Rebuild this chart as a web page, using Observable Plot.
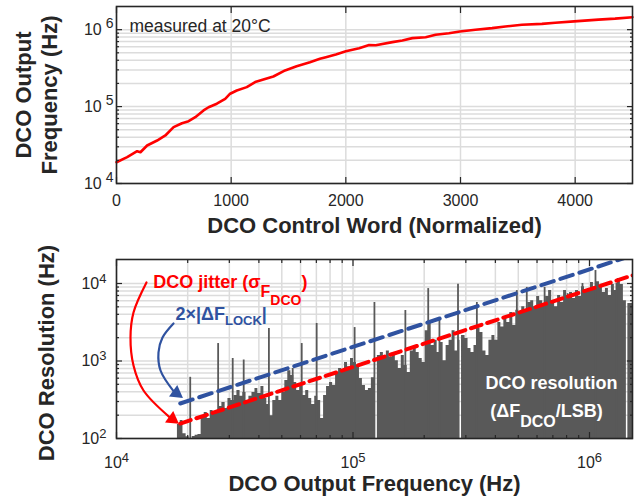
<!DOCTYPE html>
<html><head><meta charset="utf-8">
<script src="https://cdn.jsdelivr.net/npm/d3@7"></script>
<script src="https://cdn.jsdelivr.net/npm/@observablehq/plot@0.6"></script>
<style>
body{margin:0;background:#fff;}
svg{display:block;}
</style></head><body>
<div id="chart"></div>
<script>
// ---------- Top panel: DCO output frequency vs control word ----------
const controlWord = [0, 93, 180, 209, 267, 354, 426, 498, 571, 629, 687, 759, 803, 875, 948, 991, 1049, 1136, 1209, 1281, 1368, 1470, 1571, 1687, 1774, 1826, 1913, 2000, 2116, 2203, 2261, 2406, 2493, 2580, 2696, 2783, 2899, 2994, 3130, 3275, 3391, 3536, 3710, 3826, 3991, 4203, 4348, 4500];
const outputFreq = [1.89e4, 2.2e4, 2.63e4, 2.55e4, 3.12e4, 3.62e4, 4.21e4, 5.4e4, 6.08e4, 6.46e4, 7.28e4, 8.9e4, 9.8e4, 1.09e5, 1.26e5, 1.47e5, 1.62e5, 1.79e5, 2.08e5, 2.25e5, 2.46e5, 2.95e5, 3.35e5, 3.78e5, 4.18e5, 4.39e5, 4.76e5, 5.25e5, 5.75e5, 6.32e5, 6.26e5, 6.88e5, 7.24e5, 7.76e5, 7.98e5, 8.59e5, 9.0e5, 9.48e5, 9.97e5, 1.047e6, 1.1e6, 1.16e6, 1.19e6, 1.23e6, 1.28e6, 1.35e6, 1.39e6, 1.45e6];

const topXTicks = [0, 1000, 2000, 3000, 4000];
const topXTickLabels = ["0", "1000", "2000", "3000", "4000"];
const topYMajor = [1e4, 1e5, 1e6];
const topYMajorLabels = ["10^4", "10^5", "10^6"];
const topYMinor = [2e4, 3e4, 4e4, 5e4, 6e4, 7e4, 8e4, 9e4, 2e5, 3e5, 4e5, 5e5, 6e5, 7e5, 8e5, 9e5];

// ---------- Bottom panel: DCO resolution histogram ----------
const binEdges = [1.81e4, 1.86e4, 1.91e4, 1.97e4, 2.03e4, 2.09e4, 2.15e4, 2.21e4, 2.28e4, 2.35e4, 2.42e4, 2.49e4, 2.56e4, 2.64e4, 2.72e4, 2.79e4, 2.88e4, 2.96e4, 3.05e4, 3.14e4, 3.23e4, 3.33e4, 3.42e4, 3.53e4, 3.63e4, 3.74e4, 3.85e4, 3.96e4, 4.08e4, 4.20e4, 4.32e4, 4.45e4, 4.58e4, 4.72e4, 4.86e4, 5.00e4, 5.15e4, 5.30e4, 5.46e4, 5.62e4, 5.78e4, 5.95e4, 6.13e4, 6.31e4, 6.50e4, 6.69e4, 6.89e4, 7.09e4, 7.30e4, 7.51e4, 7.73e4, 7.96e4, 8.20e4, 8.44e4, 8.69e4, 8.95e4, 9.21e4, 9.48e4, 9.76e4, 1.005e5, 1.034e5, 1.065e5, 1.096e5, 1.129e5, 1.162e5, 1.196e5, 1.232e5, 1.245e5, 1.268e5, 1.305e5, 1.344e5, 1.384e5, 1.425e5, 1.467e5, 1.510e5, 1.555e5, 1.600e5, 1.648e5, 1.696e5, 1.747e5, 1.798e5, 1.851e5, 1.905e5, 1.962e5, 2.020e5, 2.080e5, 2.141e5, 2.204e5, 2.269e5, 2.336e5, 2.405e5, 2.476e5, 2.549e5, 2.624e5, 2.701e5, 2.781e5, 2.835e5, 2.877e5, 2.977e5, 3.065e5, 3.155e5, 3.248e5, 3.344e5, 3.443e5, 3.544e5, 3.649e5, 3.756e5, 3.867e5, 3.981e5, 4.098e5, 4.219e5, 4.344e5, 4.472e5, 4.604e5, 4.740e5, 4.879e5, 5.023e5, 5.171e5, 5.324e5, 5.481e5, 5.642e5, 5.809e5, 5.980e5, 6.156e5, 6.338e5, 6.525e5, 6.717e5, 6.918e5, 7.122e5, 7.332e5, 7.548e5, 7.771e5, 8.000e5, 8.236e5, 8.479e5, 8.729e5, 8.987e5, 9.252e5, 9.525e5, 9.806e5, 1.010e6, 1.039e6, 1.070e6, 1.102e6, 1.134e6, 1.168e6, 1.202e6, 1.238e6, 1.274e6, 1.312e6, 1.351e6, 1.391e6, 1.432e6, 1.453e6, 1.52e6];
const binResolution = [152, 171, 115, 105, 100, 106, 110, 113, 185, 216, 181, 230, 205, 230, 258, 292, 244, 328, 310, 359, 416, 350, 392, 310, 350, 392, 442, 380, 470, 328, 275, 197, 310, 350, 310, 392, 560, 750, 650, 528, 416, 470, 359, 416, 328, 275, 350, 310, 181, 359, 470, 528, 483, 711, 800, 750, 957, 840, 1077, 957, 875, 594, 483, 416, 442, 610, 640, 100, 1178, 1288, 1077, 1350, 1130, 1288, 1010, 800, 1178, 875, 711, 1350, 1500, 1288, 1077, 957, 2450, 3330, 1585, 1850, 1288, 1733, 1010, 1585, 1850, 2450, 1350, 1850, 100, 2133, 1950, 1449, 1288, 1585, 2625, 2333, 1350, 1178, 1850, 2133, 1850, 3140, 2750, 3532, 3140, 4226, 2871, 4500, 4226, 5000, 4500, 5688, 6000, 5000, 6800, 6000, 5400, 6800, 8100, 6000, 5000, 7000, 5688, 8100, 7000, 7656, 6399, 8100, 6800, 9100, 7656, 8614, 10300, 9000, 10500, 9420, 7656, 8614, 7000, 9700, 8100, 11600, 9700, 6000, 100, 5500];
const spikeFreq = [2.05e4, 2.69e4, 3.10e4, 3.45e4, 4.41e4, 5.56e4, 6.07e4, 7.02e4, 1.016e5, 1.232e5, 1.665e5, 2.08e5, 2.32e5, 2.78e5, 3.34e5, 4.93e5, 5.43e5, 6.46e5, 8.08e5, 9.34e5, 1.06e6, 1.30e6];
const spikeRes = [616, 1680, 1077, 1030, 2625, 800, 1680, 3050, 2700, 5690, 4480, 8600, 3530, 9800, 5690, 8100, 8900, 8900, 7400, 10000, 14700, 10000];

// Reference lines (slope-1 in log-log)
const lockFreq = [1.86e4, 1.6e6];
const lockRes = [283, 24300];     // 2x|dF_LOCK|
const jitterFreq = [1.86e4, 1.6e6];
const jitterRes = [156, 13400];   // sigma F_DCO

const botXMajor = [1e4, 1e5, 1e6];
const botXMajorLabels = ["10^4", "10^5", "10^6"];
const botXMinor = [2e4, 3e4, 4e4, 5e4, 6e4, 7e4, 8e4, 9e4, 2e5, 3e5, 4e5, 5e5, 6e5, 7e5, 8e5, 9e5];
const botYMajor = [1e2, 1e3, 1e4];
const botYMajorLabels = ["10^2", "10^3", "10^4"];
const botYMinor = [2e2, 3e2, 4e2, 5e2, 6e2, 7e2, 8e2, 9e2, 2e3, 3e3, 4e3, 5e3, 6e3, 7e3, 8e3, 9e3];

// annotation arrow paths (data units of the bottom panel)
const jitterArrowF = [1.339e4, 1.18e4, 1.146e4, 1.18e4, 1.301e4, 1.675e4];
const jitterArrowR = [10300, 4226, 2009, 875, 416, 189];
const lockArrowF = [1.742e4, 1.565e4, 1.505e4, 1.535e4, 1.742e4];
const lockArrowR = [3048, 2009, 1288, 754, 409];

// ---------- styling ----------
const font = '"Liberation Sans", Arial, Helvetica, sans-serif';
const ink = "#262626";
const gridColor = "#dcdcdc";
const red = "#ff0000";
const blue = "#2f52a0";
const barGray = "#595959";

const topData = controlWord.map((c, i) => ({c, f: outputFreq[i]}));
const barData = binEdges.map((f, i) => ({f, r: i < binResolution.length ? binResolution[i] : binResolution[binResolution.length - 1]}));
const spikeData = spikeFreq.map((f, i) => ({f, r: spikeRes[i]}));
const lockData = lockFreq.map((f, i) => ({f, r: lockRes[i]}));
const jitterData = jitterFreq.map((f, i) => ({f, r: jitterRes[i]}));
const jArrow = jitterArrowF.map((f, i) => ({f, r: jitterArrowR[i]}));
const lArrow = lockArrowF.map((f, i) => ({f, r: lockArrowR[i]}));

function tickMarks(xT, yT, len) {
  const o = {fill: "none", stroke: ink, strokeWidth: 1.2, label: null};
  return [
    Plot.axisX(xT, {...o, anchor: "bottom", tickSize: len, dy: -len}),
    Plot.axisX(xT, {...o, anchor: "top", tickSize: len, dy: len}),
    Plot.axisY(yT, {...o, anchor: "left", tickSize: len, dx: len}),
    Plot.axisY(yT, {...o, anchor: "right", tickSize: len, dx: -len})
  ];
}

function supTicks(svg, gap, size, rise) {
  d3.select(svg).selectAll("text").each(function () {
    const s = this.textContent;
    if (!s.startsWith("10^")) return;
    const t = d3.select(this);
    t.text(null);
    t.append("tspan").text("10");
    t.append("tspan").attr("dx", gap).attr("dy", -rise).attr("font-size", size).text(s.slice(3));
  });
}

function richText(svg, key, parts) {
  d3.select(svg).selectAll("text").filter(function () { return this.textContent === key; }).each(function () {
    const t = d3.select(this);
    t.text(null);
    for (const [s, size, dy] of parts) t.append("tspan").attr("font-size", size).attr("dy", dy).text(s);
  });
}

const topPlot = Plot.plot({
  width: 636, height: 240,
  marginLeft: 116, marginRight: 4, marginTop: 6, marginBottom: 57,
  style: {fontFamily: font, fontSize: "16px", color: ink, background: "white"},
  x: {domain: [0, 4500], label: null, axis: null},
  y: {type: "log", domain: [1e4, 2e6], label: null, axis: null},
  marks: [
    Plot.gridX(topXTicks, {stroke: gridColor, strokeOpacity: 1, strokeWidth: 1.5}),
    Plot.gridY([...topYMajor, ...topYMinor], {stroke: gridColor, strokeOpacity: 1, strokeWidth: 1.5}),
    Plot.line(topData, {x: "c", y: "f", stroke: red, strokeWidth: 2.6}),
    Plot.text(["measured at 20°C"], {x: 113, y: 9.19e5, textAnchor: "start", lineAnchor: "bottom", fontSize: 17.5, fill: ink}),
    Plot.frame({stroke: ink, strokeWidth: 1.6}),
    ...tickMarks(topXTicks, topYMajor, 6),
    ...tickMarks([], topYMinor, 3),
    Plot.axisX(topXTicks, {anchor: "bottom", tickSize: 0, tickPadding: 11, fill: ink, label: null,
      tickFormat: d => topXTickLabels[topXTicks.indexOf(d)]}),
    Plot.axisY(topYMajor, {anchor: "left", tickSize: 0, tickPadding: 3, fill: ink, label: null,
      tickFormat: d => topYMajorLabels[topYMajor.indexOf(d)]}),
    Plot.text(["DCO Control Word (Normalized)"], {frameAnchor: "bottom", dy: 49, lineAnchor: "bottom", fontSize: 22, fontWeight: "bold", fill: ink}),
    Plot.text(["DCO Output\nFrequency (Hz)"], {frameAnchor: "left", rotate: -90, dx: -60, textAnchor: "middle", lineAnchor: "bottom", lineHeight: 1.18, fontSize: 22, fontWeight: "bold", fill: ink})
  ]
});
supTicks(topPlot, 4, 14, 7);

const botPlot = Plot.plot({
  width: 636, height: 260,
  marginLeft: 116, marginRight: 4, marginTop: 19, marginBottom: 62,
  style: {fontFamily: font, fontSize: "16px", color: ink, background: "white"},
  x: {type: "log", domain: [1e4, 1.52e6], label: null, axis: null},
  y: {type: "log", domain: [1e2, 2.04e4], label: null, axis: null},
  marks: [
    Plot.gridX([...botXMajor, ...botXMinor], {stroke: gridColor, strokeOpacity: 1, strokeWidth: 1.5}),
    Plot.gridY([...botYMajor, ...botYMinor], {stroke: gridColor, strokeOpacity: 1, strokeWidth: 1.5}),
    Plot.areaY(barData, {x: "f", y1: 100, y2: "r", curve: "step-after", fill: barGray}),
    Plot.ruleX(spikeData, {x: "f", y1: 100, y2: "r", stroke: barGray, strokeWidth: 1.8}),
    Plot.line(lockData, {x: "f", y: "r", stroke: blue, strokeWidth: 4, strokeDasharray: "13,7", clip: true}),
    Plot.line(jitterData, {x: "f", y: "r", stroke: red, strokeWidth: 4, strokeDasharray: "11,6", clip: true}),
    Plot.frame({stroke: ink, strokeWidth: 1.6}),
    ...tickMarks(botXMajor, botYMajor, 6),
    ...tickMarks(botXMinor, botYMinor, 3),
    Plot.axisX(botXMajor, {anchor: "bottom", tickSize: 0, tickPadding: 18, fill: ink, label: null,
      tickFormat: d => botXMajorLabels[botXMajor.indexOf(d)]}),
    Plot.axisY(botYMajor, {anchor: "left", tickSize: 0, tickPadding: 10, fill: ink, label: null,
      tickFormat: d => botYMajorLabels[botYMajor.indexOf(d)]}),
    // annotations
    Plot.line(jArrow, {x: "f", y: "r", curve: "catmull-rom", stroke: red, strokeWidth: 2.2}),
    Plot.dot([{f: 1.723e4, r: 178}], {x: "f", y: "r", symbol: "triangle", r: 5.2, rotate: 126, fill: red, stroke: "none"}),
    Plot.line(lArrow, {x: "f", y: "r", curve: "catmull-rom", stroke: blue, strokeWidth: 2.2}),
    Plot.dot([{f: 1.792e4, r: 385}], {x: "f", y: "r", symbol: "triangle", r: 5.2, rotate: 126, fill: blue, stroke: "none"}),
    Plot.text(["#jitter"], {x: 1.43e4, y: 8620, textAnchor: "start", lineAnchor: "bottom", fontSize: 18, fontWeight: "bold", fill: red}),
    Plot.text(["#lock"], {x: 1.776e4, y: 3335, textAnchor: "start", lineAnchor: "bottom", fontSize: 18, fontWeight: "bold", fill: blue}),
    Plot.text(["DCO resolution"], {x: 6.9e5, y: 441, textAnchor: "middle", lineAnchor: "bottom", fontSize: 18, fontWeight: "bold", fill: "white"}),
    Plot.text(["#res"], {x: 6.58e5, y: 187, textAnchor: "middle", lineAnchor: "bottom", fontSize: 18, fontWeight: "bold", fill: "white"}),
    Plot.text(["DCO Output Frequency (Hz)"], {frameAnchor: "bottom", dy: 52, lineAnchor: "bottom", fontSize: 22, fontWeight: "bold", fill: ink}),
    Plot.text(["DCO Resolution (Hz)"], {frameAnchor: "left", rotate: -90, dx: -63, dy: 4, textAnchor: "middle", lineAnchor: "bottom", fontSize: 22, fontWeight: "bold", fill: ink})
  ]
});
supTicks(botPlot, 0, 13, 6);
richText(botPlot, "#jitter", [["DCO jitter (σ", 18, 0], ["F", 16, 9], ["DCO", 14, 8], [")", 18, -17]]);
richText(botPlot, "#lock", [["2×|ΔF", 18, 0], ["LOCK", 13, 5], ["|", 18, -5]]);
richText(botPlot, "#res", [["(ΔF", 18, 0], ["DCO", 16, 10], ["/LSB)", 18, -10]]);

document.getElementById("chart").append(topPlot, botPlot);
</script>
</body></html>
